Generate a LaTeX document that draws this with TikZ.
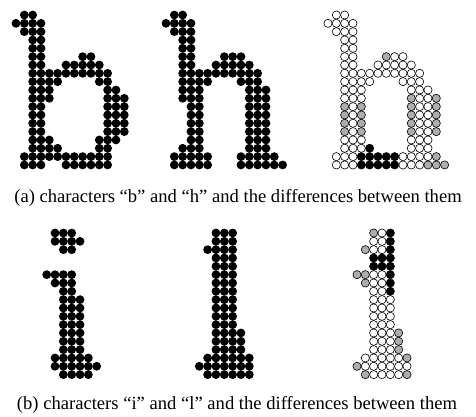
\documentclass[tikz,border=0pt]{standalone}
\usepackage{fontspec}
\setmainfont{Liberation Serif}
\tikzset{
  ink/.style={fill=black},
  both/.style={draw=black, fill=white, line width=0.6pt},
  onlyone/.style={draw=black, fill=black!32, line width=0.6pt},
  other/.style={draw=black, fill=black, line width=0.6pt},
  caption/.style={anchor=base, font=\fontsize{18.6}{22}\selectfont},
}
% one row list per glyph: row/{columns}
\newcommand{\dotgrid}[3]{\foreach \r/\cs in {#3} {\foreach \c in \cs {\path[#1] (\c,\r) circle[radius=#2];}}}
\begin{document}
\begin{tikzpicture}[x=1pt,y=-1pt]
\useasboundingbox (0,0) rectangle (476,416);

% Character b
\begin{scope}[shift={(16,15)},x=8.33pt,y=-8.33pt]
\dotgrid{ink}{4.4pt}{0/{1,2},1/{0,1,2,3},2/{1,2,3},3/{2,3},4/{2,3},5/{2,3,8,9},6/{2,3,6,7,8,9,10},
  7/{2,...,11},8/{2,3,4,5,10,11},9/{2,3,4,11,12},10/{2,3,4,11,12,13},11/{2,3,11,12,13},
  12/{2,3,11,12,13},13/{2,3,11,12,13},14/{2,3,11,12,13},15/{2,3,4,10,11,12},16/{2,3,4,5,10,11},
  17/{1,...,11},18/{1,2,3,6,7,8,9,10,11}}
\end{scope}

% Character h
\begin{scope}[shift={(166,15)},x=8.33pt,y=-8.33pt]
\dotgrid{ink}{4.4pt}{0/{1,2},1/{0,1,2,3},2/{1,2,3},3/{2,3},4/{2,3},5/{2,3,7,8,9},6/{2,3,6,7,8,9,10},
  7/{2,...,11},8/{2,3,4,5,9,10,11},9/{2,3,4,10,11,12},10/{2,3,4,10,11,12},11/{3,4,10,11,12},
  12/{3,4,10,11,12},13/{3,4,10,11,12},14/{3,4,10,11,12},15/{3,4,10,11,12},16/{2,3,4,10,11,12},
  17/{1,2,3,4,5,9,10,11,12,13},18/{1,2,3,4,5,9,10,11,12,13,14}}
\end{scope}

% Differences b/h
\begin{scope}[shift={(328,15)},x=8.33pt,y=-8.33pt]
\dotgrid{both}{4.1pt}{0/{1,2},1/{0,1,2,3},2/{1,2,3},3/{2,3},4/{2,3},5/{2,3,8,9},6/{2,3,6,7,8,9,10},
  7/{2,...,11},8/{2,3,4,5,9,10,11},9/{2,3,4,10,11,12},10/{2,3,4,11,12},11/{3,11,12},12/{3,11,12},
  13/{3,11,12},14/{3,11,12},15/{2,3,4,10,11,12},16/{2,3,4,10,11,12},17/{1,2,3,9,10,11,12},
  18/{1,2,3,9,10,11}}
\dotgrid{onlyone}{4.1pt}{5/{7},10/{10,13},11/{2,4,10,13},12/{2,4,10,13},13/{2,4,10,13},14/{2,4,10,13},
  17/{13},18/{12,13,14}}
\dotgrid{other}{4.1pt}{16/{5},17/{4,...,8},18/{4,...,8}}
\end{scope}

% Character i
\begin{scope}[shift={(46.7,233)},x=8.33pt,y=-8.33pt]
\dotgrid{ink}{4.4pt}{0/{1,2,3},1/{1,2,3,4},2/{2,3},5/{0,1,2,3},6/{1,2,3},7/{2,3},8/{2,3,4},9/{2,3,4},
  10/{2,3,4},11/{2,3,4},12/{2,3,4},13/{2,3,4},14/{2,3,4},15/{1,...,5},16/{1,...,6},17/{2,...,5}}
\end{scope}

% Character l
\begin{scope}[shift={(199.3,233)},x=8.33pt,y=-8.33pt]
\dotgrid{ink}{4.4pt}{0/{2,3,4},1/{2,3,4},2/{1,2,3,4},3/{2,3,4},4/{2,3,4},5/{2,3,4},6/{2,3,4},7/{2,3,4},
  8/{2,3,4},9/{2,3,4},10/{2,3,4},11/{2,3,4},12/{2,...,5},13/{2,...,5},14/{2,...,5},15/{1,...,6},
  16/{0,...,6},17/{1,...,6}}
\end{scope}

% Differences i/l
\begin{scope}[shift={(357,233)},x=8.33pt,y=-8.33pt]
\dotgrid{both}{4.1pt}{0/{3},1/{2,3},2/{2,3},5/{2,3},6/{2,3},7/{2,3},8/{2,3,4},9/{2,3,4},10/{2,3,4},
  11/{2,3,4},12/{2,3,4},13/{2,3,4},14/{2,3,4},15/{1,...,5},16/{1,...,6},17/{2,...,5}}
\dotgrid{onlyone}{4.1pt}{0/{2},2/{1},5/{0,1},6/{1},12/{5},13/{5},14/{5},15/{6},16/{0},17/{1,6}}
\dotgrid{other}{4.1pt}{0/{4},1/{4},2/{4},3/{2,3,4},4/{2,3,4},5/{4},6/{4},7/{4}}
\end{scope}

% Captions
\node[caption] (capa) at (238,202) {(a) characters ``b'' and ``h'' and the differences between them};
\node[caption] (capb) at (237,409) {(b) characters ``i'' and ``l'' and the differences between them};
\end{tikzpicture}
\end{document}
